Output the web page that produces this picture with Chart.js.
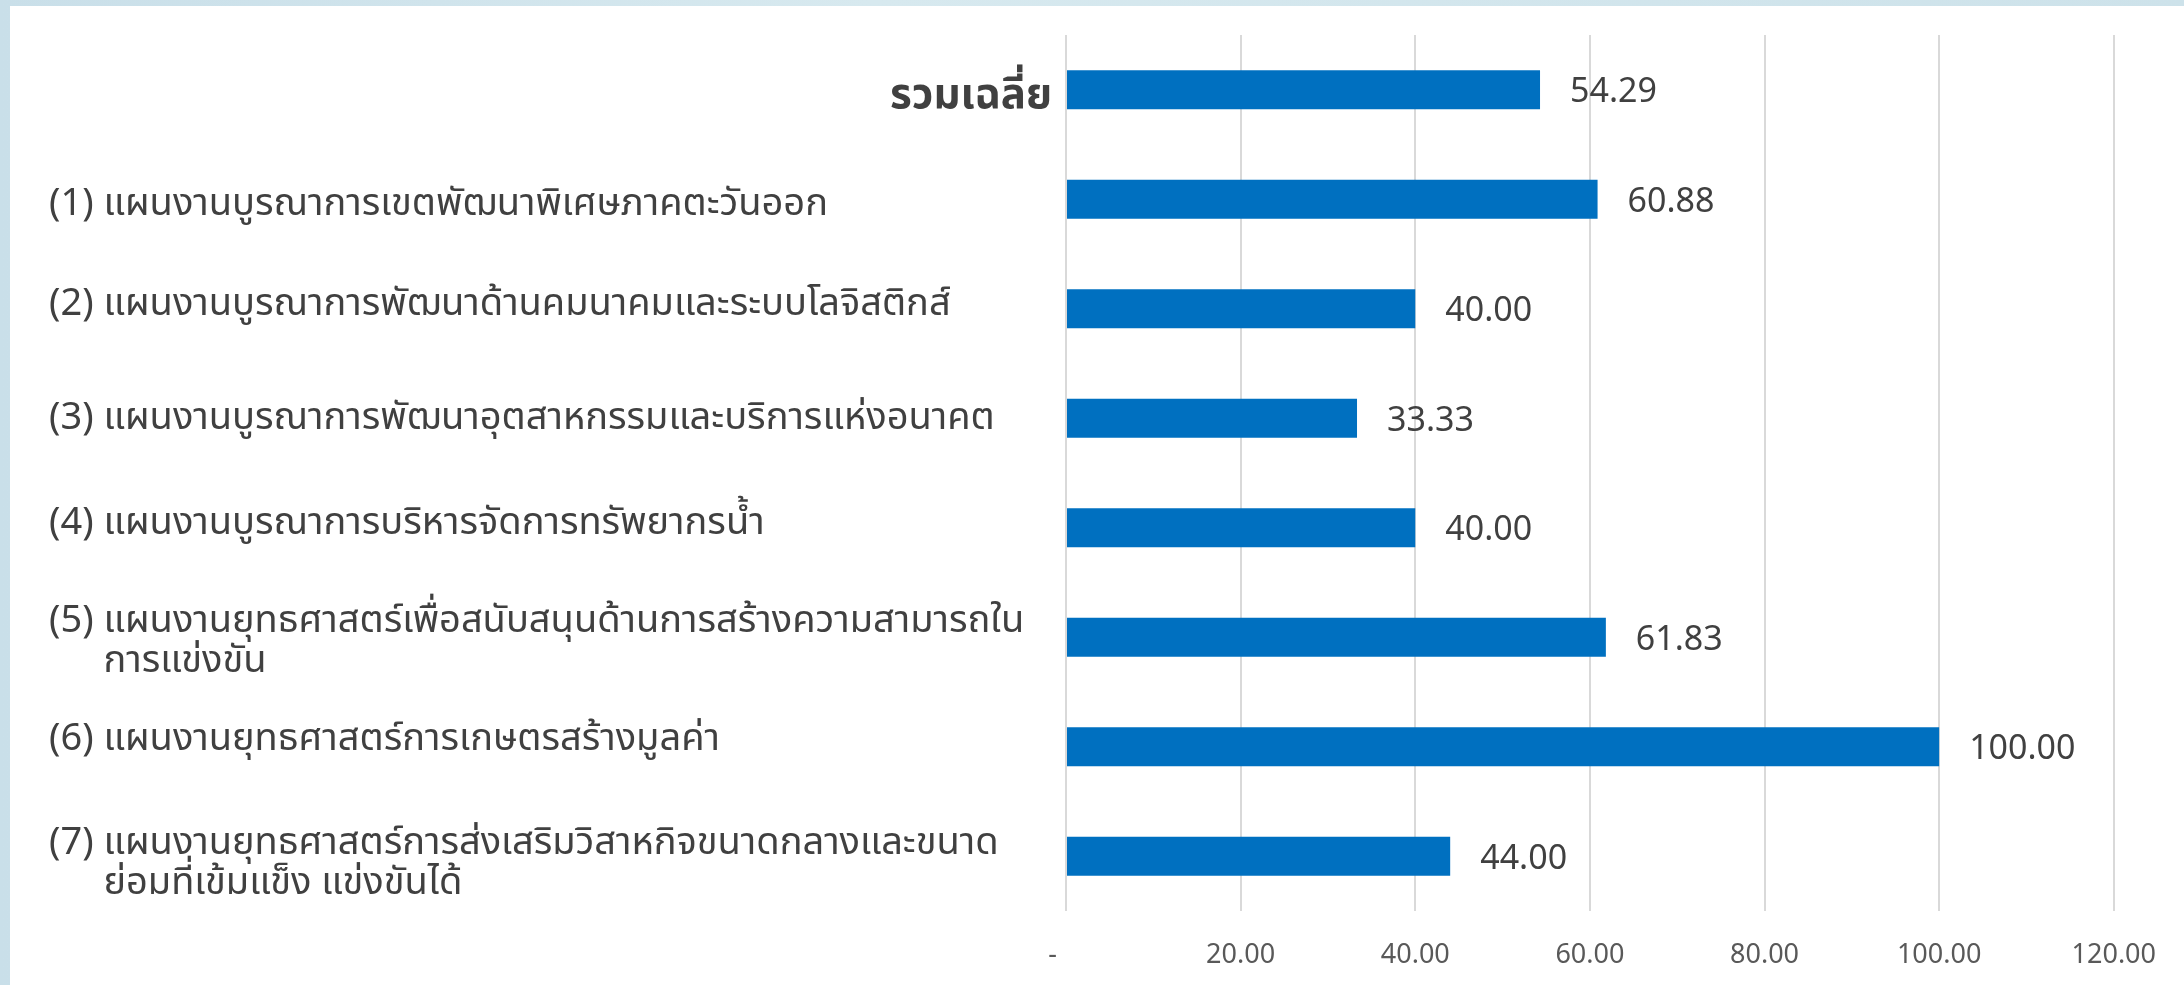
<!DOCTYPE html>
<html lang="th">
<head>
<meta charset="utf-8">
<title>แผนงานบูรณาการ / แผนงานยุทธศาสตร์</title>
<script src="https://cdn.jsdelivr.net/npm/chart.js@4.4.1/dist/chart.umd.min.js"></script>
<style>
    html, body {
        margin: 0;
        padding: 0;
        width: 2184px;
        height: 985px;
        overflow: hidden;
        background: linear-gradient(90deg, #c9dfe9 0%, #d7e9ef 40%, #cde2ea 100%);
    }
    .panel {
        position: absolute;
        left: 10px;
        top: 6px;
        right: 0;
        bottom: 0;
        background: #ffffff;
    }
    .chart-wrap {
        position: absolute;
        left: 0;
        top: 0;
        width: 2184px;
        height: 985px;
    }
</style>
</head>
<body>
<div class="panel"></div>
<div class="chart-wrap">
    <canvas id="planChart" width="2184" height="985"></canvas>
</div>
<script>
// ข้อมูลกราฟ
const categories = [
    ['รวมเฉลี่ย'],
    ['(1) แผนงานบูรณาการเขตพัฒนาพิเศษภาคตะวันออก'],
    ['(2) แผนงานบูรณาการพัฒนาด้านคมนาคมและระบบโลจิสติกส์'],
    ['(3) แผนงานบูรณาการพัฒนาอุตสาหกรรมและบริการแห่งอนาคต'],
    ['(4) แผนงานบูรณาการบริหารจัดการทรัพยากรน้ำ'],
    ['(5) แผนงานยุทธศาสตร์เพื่อสนับสนุนด้านการสร้างความสามารถใน', 'การแข่งขัน'],
    ['(6) แผนงานยุทธศาสตร์การเกษตรสร้างมูลค่า'],
    ['(7) แผนงานยุทธศาสตร์การส่งเสริมวิสาหกิจขนาดกลางและขนาด', 'ย่อมที่เข้มแข็ง แข่งขันได้']
];
const scores = [54.29, 60.88, 40.00, 33.33, 40.00, 61.83, 100.00, 44.00];
const tickValues = [0, 20, 40, 60, 80, 100, 120];
const tickLabels = ['-', '20.00', '40.00', '60.00', '80.00', '100.00', '120.00'];

const barColor = '#0070c0';
const textColor = '#404040';
const tickColor = '#595959';
const thaiFont = "'Noto Sans Thai', 'Noto Sans', 'Open Sans', sans-serif";
const numberFont = "'Noto Sans', 'Open Sans', sans-serif";

// ป้ายในภาพต้นฉบับไม่ได้อยู่กึ่งกลางแท่งพอดี จึงเลื่อนขึ้นลงทีละป้าย
const labelNudge = [10, 8, -1, 3, -1, 7, -4, 10];

// วาดชื่อหมวดหมู่ด้านซ้ายเอง (ตัวหนาชิดขวาสำหรับรวมเฉลี่ย, บรรทัดที่สองเยื้อง)
const categoryLabelPlugin = {
    id: 'categoryLabels',
    afterDraw(chart) {
        const ctx = chart.ctx;
        const yScale = chart.scales.y;
        const left = 49;
        const lineGap = 40;

        ctx.save();
        ctx.fillStyle = textColor;
        ctx.textBaseline = 'middle';

        categories.forEach(function(lines, i) {
            const cy = yScale.getPixelForValue(i) + labelNudge[i];

            if (i === 0) {
                ctx.font = 'bold 42px ' + thaiFont;
                ctx.textAlign = 'right';
                ctx.fillText(lines[0], 1052, cy);
                return;
            }

            ctx.font = '38px ' + thaiFont;
            ctx.textAlign = 'left';
            const prefix = lines[0].slice(0, 4);
            const indent = ctx.measureText(prefix).width;
            const top = cy - (lines.length - 1) * lineGap / 2;

            lines.forEach(function(line, j) {
                ctx.fillText(line, left + (j === 0 ? 0 : indent), top + j * lineGap);
            });
        });
        ctx.restore();
    }
};

// ค่าตัวเลขท้ายแท่ง
const valueLabelPlugin = {
    id: 'valueLabels',
    afterDatasetsDraw(chart) {
        const ctx = chart.ctx;
        const meta = chart.getDatasetMeta(0);

        ctx.save();
        ctx.fillStyle = textColor;
        ctx.font = '34px ' + numberFont;
        ctx.textAlign = 'left';
        ctx.textBaseline = 'middle';
        meta.data.forEach(function(bar, i) {
            ctx.fillText(scores[i].toFixed(2), bar.x + 30, bar.y + 3);
        });
        ctx.restore();
    }
};

const canvas = document.getElementById('planChart');

new Chart(canvas, {
    type: 'bar',
    data: {
        labels: categories,
        datasets: [{
            data: scores,
            backgroundColor: barColor,
            borderWidth: 0,
            categoryPercentage: 1,
            barPercentage: 0.357
        }]
    },
    options: {
        indexAxis: 'y',
        responsive: false,
        animation: false,
        layout: {
            padding: { left: 1066, right: 70, top: 35, bottom: 0 }
        },
        plugins: {
            legend: { display: false },
            tooltip: { enabled: false }
        },
        scales: {
            x: {
                min: 0,
                max: 120,
                afterBuildTicks(scale) {
                    scale.ticks = tickValues.map(function(v) { return { value: v }; });
                },
                afterFit(scale) {
                    scale.height = 74;
                },
                grid: {
                    color: '#d9d9d9',
                    lineWidth: 2,
                    drawTicks: false
                },
                border: { display: false },
                ticks: {
                    color: tickColor,
                    padding: 28,
                    font: { family: numberFont, size: 27 },
                    callback: function(value, index) {
                        // ขีดของศูนย์ในต้นฉบับอยู่ค่อนไปทางซ้ายของเส้น
                        return index === 0 ? tickLabels[index] + '\u2002\u2002' : tickLabels[index];
                    }
                }
            },
            y: {
                grid: { display: false },
                border: { display: false },
                ticks: { display: false },
                afterFit(scale) {
                    scale.width = 0;
                }
            }
        }
    },
    plugins: [categoryLabelPlugin, valueLabelPlugin]
});
</script>
</body>
</html>
